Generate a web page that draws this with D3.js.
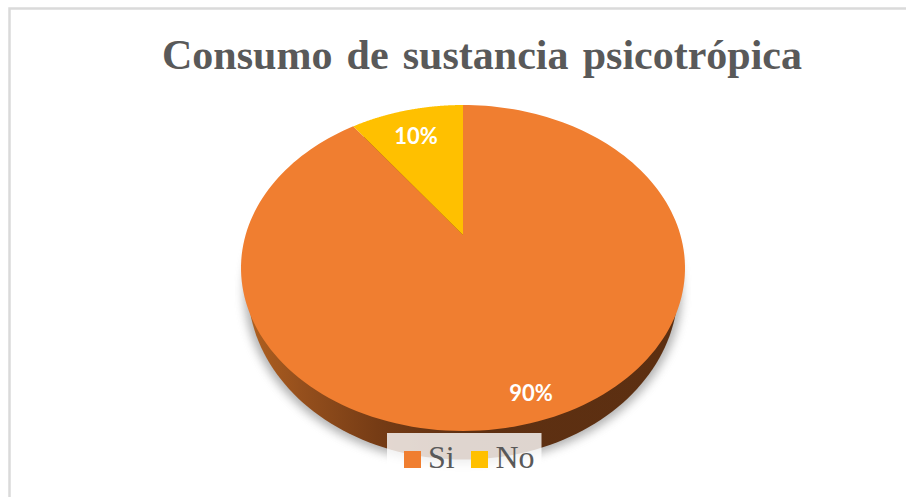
<!DOCTYPE html>
<html>
<head>
<meta charset="utf-8">
<script src="https://cdn.jsdelivr.net/npm/d3@7/dist/d3.min.js"></script>
<style>
html,body{margin:0;padding:0;background:#fff;}
svg{display:block;}
</style>
</head>
<body>
<div id="chart"></div>
<script>
const categories = ["Si", "No"];
const values = [90, 10];
const colors = ["#F07E30", "#FFC000"];
const titleText = "Consumo de sustancia psicotrópica";

const width = 906, height = 497;
const svg = d3.select("#chart").append("svg").attr("width", width).attr("height", height);
const defs = svg.append("defs");

// Tilted disc: a circle seen in perspective, so its far half is foreshortened
const apex = {x: 463, y: 235};
const scaleX = 217.4, scaleY = 156.3, tilt = 0.2025;
const project = a => {
  const w = 1 + tilt * Math.cos(a);
  return [apex.x + scaleX * Math.sin(a) / w, apex.y - scaleY * Math.cos(a) / w];
};
const rimAngles = (a0, a1) => d3.range(0, 181).map(i => a0 + (a1 - a0) * i / 180);
const line = d3.line();

const pie = d3.pie().sort(null).value(d => d);
const slices = pie(values);

// Underside rim of the disc, slightly narrower and lower than the top face
const underside = (cx, cy, rx, ry) =>
  line(rimAngles(0, 2 * Math.PI).map(a => [cx + rx * Math.sin(a), cy - ry * Math.cos(a)])) + "Z";

const blur = defs.append("filter").attr("id", "soft")
  .attr("x", "-10%").attr("y", "-10%").attr("width", "120%").attr("height", "120%");
blur.append("feGaussianBlur").attr("stdDeviation", 5);

const sideGrad = defs.append("linearGradient").attr("id", "side")
  .attr("gradientUnits", "userSpaceOnUse")
  .attr("x1", 248).attr("x2", 678).attr("y1", 0).attr("y2", 0);
[[0, "#B0601F"], [0.12, "#96501D"], [0.3, "#763C15"], [0.5, "#5E3012"], [1, "#5C2F11"]]
  .forEach(([o, c]) => sideGrad.append("stop").attr("offset", o).attr("stop-color", c));

// Drop shadow, then the wall
svg.append("path").attr("d", underside(463, 291, 219, 173))
  .attr("fill", "#7f7f7f").attr("opacity", 0.6).attr("filter", "url(#soft)");
svg.append("path").attr("d", underside(463, 288.5, 215, 171)).attr("fill", "url(#side)");

// Slices on the top face
svg.append("g").selectAll("path").data(slices).join("path")
  .attr("d", d => line([[apex.x, apex.y]].concat(rimAngles(d.startAngle, d.endAngle).map(project))) + "Z")
  .attr("fill", (d, i) => colors[i]);

// Value labels
const total = d3.sum(values);
const labelPos = [[531, 393], [416, 136]];
svg.append("g").selectAll("text").data(slices).join("text")
  .attr("x", (d, i) => labelPos[i][0]).attr("y", (d, i) => labelPos[i][1])
  .attr("dy", "0.35em").attr("text-anchor", "middle")
  .attr("font-family", "Lato").attr("font-weight", 700).attr("font-size", 22)
  .attr("fill", "#fff")
  .text(d => Math.round(d.value / total * 100) + "%");

// Frame lines at the top and left
svg.append("path").attr("d", "M9.5,497V8.5H906")
  .attr("fill", "none").attr("stroke", "#DADADA").attr("stroke-width", 2.5);

svg.append("text").attr("x", 482).attr("y", 68.5).attr("text-anchor", "middle")
  .attr("font-family", "Liberation Serif").attr("font-weight", 700)
  .attr("font-size", 42).attr("word-spacing", 3.7)
  .attr("fill", "#595959").text(titleText);

// Legend on a translucent panel
svg.append("rect").attr("x", 387).attr("y", 433).attr("width", 154.5).attr("height", 50)
  .attr("fill", "#fff").attr("fill-opacity", 0.8);
const legendSwatchX = [404, 471], legendTextX = [428, 495.5];
const legend = svg.append("g").selectAll("g").data(categories).join("g");
legend.append("rect").attr("x", (d, i) => legendSwatchX[i]).attr("y", 451)
  .attr("width", 17).attr("height", 17).attr("fill", (d, i) => colors[i]);
legend.append("text").attr("x", (d, i) => legendTextX[i]).attr("y", 468)
  .attr("font-family", "Liberation Serif").attr("font-size", 32)
  .attr("fill", "#595959").text(d => d);
</script>
</body>
</html>
